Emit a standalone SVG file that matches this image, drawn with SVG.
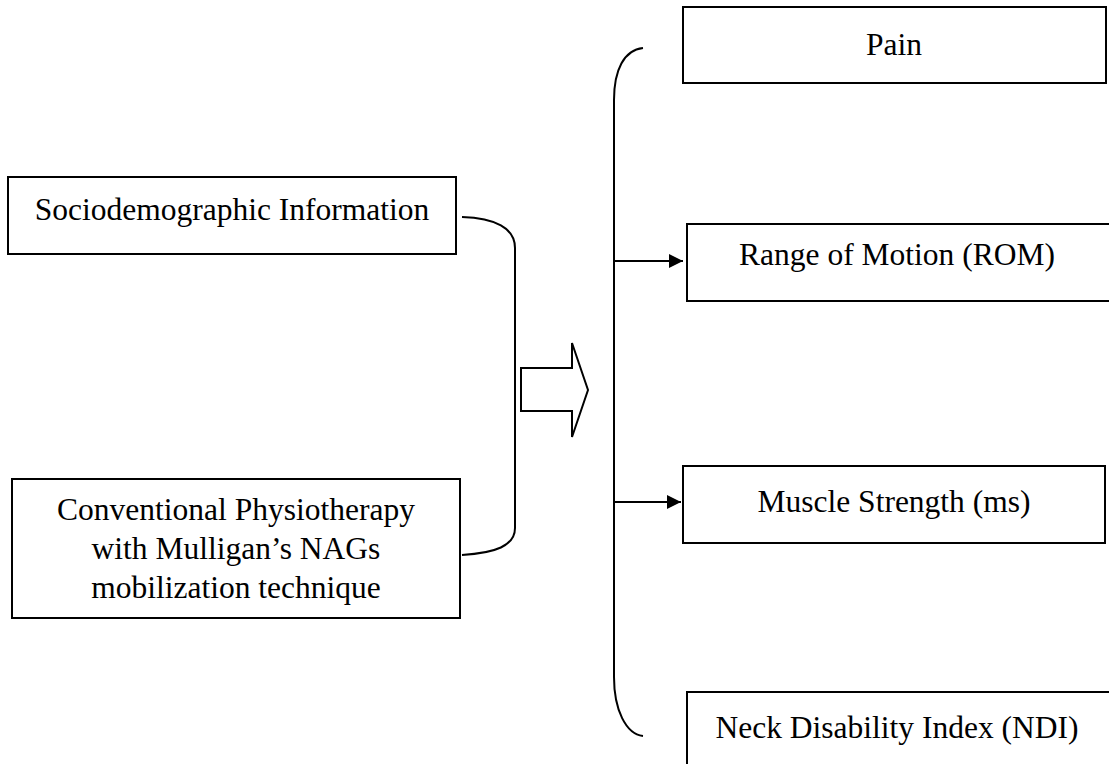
<svg xmlns="http://www.w3.org/2000/svg" width="1109" height="764" viewBox="0 0 1109 764">
<style>
.box{fill:#fff;stroke:#000;stroke-width:2}
.t{font-family:"Liberation Serif","Times New Roman",serif;font-size:31.5px;fill:#000;text-anchor:middle}
.ln{fill:none;stroke:#000;stroke-width:2}
</style>
<defs>
<marker id="ah" viewBox="0 0 10 10" refX="10" refY="5" markerWidth="7.5" markerHeight="7" markerUnits="strokeWidth" orient="auto">
<path d="M0,0 L10,5 L0,10 Z" fill="#000"/>
</marker>
</defs>
<rect width="1109" height="764" fill="#fff"/>
<g id="socio"><rect class="box" x="8" y="177" width="448" height="77"/><text class="t" x="232" y="220">Sociodemographic Information</text></g>
<g id="conventional"><rect class="box" x="12" y="479" width="448" height="139"/>
<text class="t" x="236" y="520">Conventional Physiotherapy</text>
<text class="t" x="236" y="559">with Mulligan’s NAGs</text>
<text class="t" x="236" y="598">mobilization technique</text></g>
<g id="pain"><rect class="box" x="683" y="7" width="423" height="76"/><text class="t" x="894" y="55">Pain</text></g>
<g id="rom"><rect class="box" x="687" y="224" width="440" height="77"/><text class="t" x="897" y="265">Range of Motion (ROM)</text></g>
<g id="muscle"><rect class="box" x="683" y="466" width="422" height="77"/><text class="t" x="894" y="512">Muscle Strength (ms)</text></g>
<g id="ndi"><rect class="box" x="687" y="692" width="440" height="90"/><text class="t" x="897" y="738">Neck Disability Index (NDI)</text></g>
<g id="connectors">
<path class="ln" d="M462,217 C495,218 515,228 515,248 L515,528 C515,546 495,553 462,555"/>
<path class="ln" d="M643,48 C624,50 614,70 614,100 L614,677 C614,710 626,734 643,736"/>
<polygon points="521,368 572,368 572,343 588,390 572,437 572,411 521,411" fill="#fff" stroke="#000" stroke-width="2" stroke-linejoin="miter"/>
<line class="ln" x1="614" y1="261" x2="683" y2="261" marker-end="url(#ah)"/>
<line class="ln" x1="614" y1="502" x2="681" y2="502" marker-end="url(#ah)"/>
</g>
</svg>
